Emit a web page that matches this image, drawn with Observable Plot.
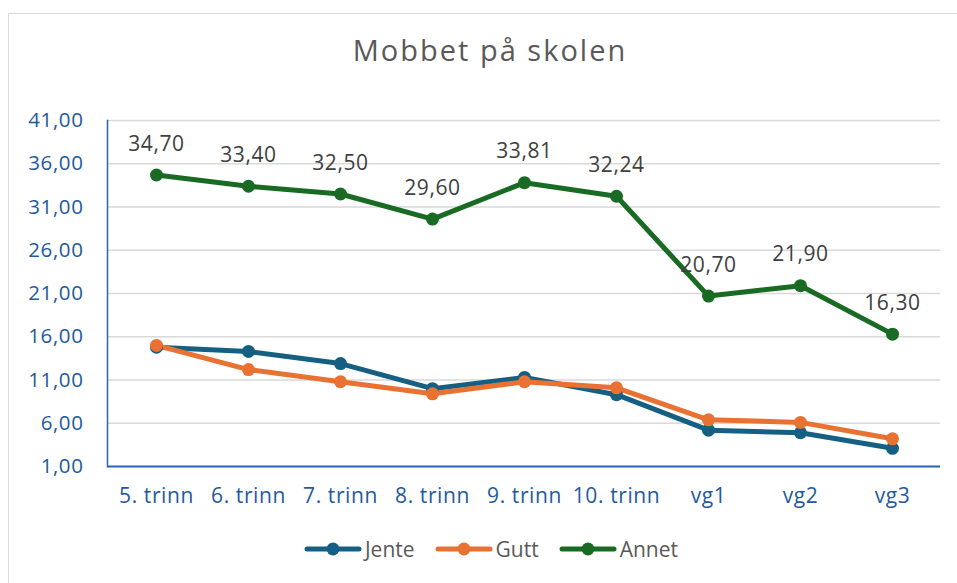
<!DOCTYPE html>
<html><head><meta charset="utf-8">
<script src="https://cdn.jsdelivr.net/npm/d3@7"></script>
<script src="https://cdn.jsdelivr.net/npm/@observablehq/plot@0.6"></script>
<style>
body{margin:0;background:#fff;font-family:"Open Sans",sans-serif;}
#wrap{position:relative;width:957px;height:583px;overflow:hidden;background:#fff;}
#border{position:absolute;left:8px;top:13px;width:1000px;height:1000px;border:1.5px solid #d9d9d9;box-sizing:border-box;}
#title{position:absolute;left:0;width:980px;top:35px;line-height:1;text-align:center;font-size:29px;color:#595959;letter-spacing:2px;}
#chart{position:absolute;left:0;top:0;}
#chart svg text{letter-spacing:0.6px;}
#legend{position:absolute;left:0;width:982px;top:537px;height:24px;display:flex;justify-content:center;align-items:center;gap:20px;font-size:21px;color:#595959;}
.item{display:flex;align-items:center;gap:3px;}
</style></head>
<body>
<div id="wrap">
<div id="border"></div>
<div id="chart"></div>
<div id="title">Mobbet på skolen</div>
<div id="legend"></div>
</div>
<script>
const grades = ["5. trinn","6. trinn","7. trinn","8. trinn","9. trinn","10. trinn","vg1","vg2","vg3"];
const jente = [14.8,14.3,12.9,10.0,11.3,9.3,5.2,4.9,3.1];
const gutt = [15.0,12.2,10.8,9.4,10.8,10.1,6.4,6.1,4.2];
const annet = [34.70,33.40,32.50,29.60,33.81,32.24,20.70,21.90,16.30];
const seriesNames = ["Jente","Gutt","Annet"];
const seriesColors = ["#156082","#E97132","#196B24"];
const yTicks = [1,6,11,16,21,26,31,36,41];

const fmt = v => v.toFixed(2).replace(".", ",");
const seriesValues = [jente, gutt, annet];
const data = [];
seriesNames.forEach((s, i) => grades.forEach((g, j) => data.push({series: s, grade: g, value: seriesValues[i][j]})));
const annetRows = data.filter(d => d.series === "Annet");
const axisBlue = "#2366b4";
const tickColor = "#1f5a9e";

const chart = Plot.plot({
  width: 957, height: 583,
  marginLeft: 107, marginRight: 17, marginTop: 120, marginBottom: 117,
  x: {type: "point", domain: grades, padding: 0.5},
  y: {domain: [1, 41]},
  color: {domain: seriesNames, range: seriesColors},
  style: {fontFamily: "Open Sans", background: "transparent", overflow: "visible"},
  marks: [
    Plot.ruleY(yTicks.slice(1), {stroke: "#d9d9d9", strokeWidth: 1.5}),
    Plot.frame({anchor: "left", stroke: axisBlue, strokeWidth: 1.5}),
    Plot.ruleY([1], {stroke: axisBlue, strokeWidth: 2}),
    Plot.axisY({ticks: yTicks, tickSize: 0, tickPadding: 24, tickFormat: fmt, color: tickColor, fill: tickColor, fontSize: 20.5, label: null}),
    Plot.axisX({tickSize: 0, tickPadding: 22, color: tickColor, fill: tickColor, fontSize: 21, label: null}),
    Plot.line(data, {x: "grade", y: "value", z: "series", stroke: "series", strokeWidth: 5, strokeLinejoin: "round", strokeLinecap: "round"}),
    Plot.dot(data, {x: "grade", y: "value", fill: "series", r: 6.5}),
    Plot.text(annetRows, {x: "grade", y: "value", text: d => fmt(d.value), dy: -31, fill: "#404040", fontSize: 21})
  ]
});
document.getElementById("chart").appendChild(chart);

const legend = document.getElementById("legend");
seriesNames.forEach((s, i) => {
  const item = document.createElement("div");
  item.className = "item";
  item.innerHTML = `<svg width="58" height="14"><line x1="3" y1="7" x2="55" y2="7" stroke="${seriesColors[i]}" stroke-width="5" stroke-linecap="round"/><circle cx="29" cy="7" r="6.5" fill="${seriesColors[i]}"/></svg><span>${s}</span>`;
  legend.appendChild(item);
});
</script>
</body></html>
